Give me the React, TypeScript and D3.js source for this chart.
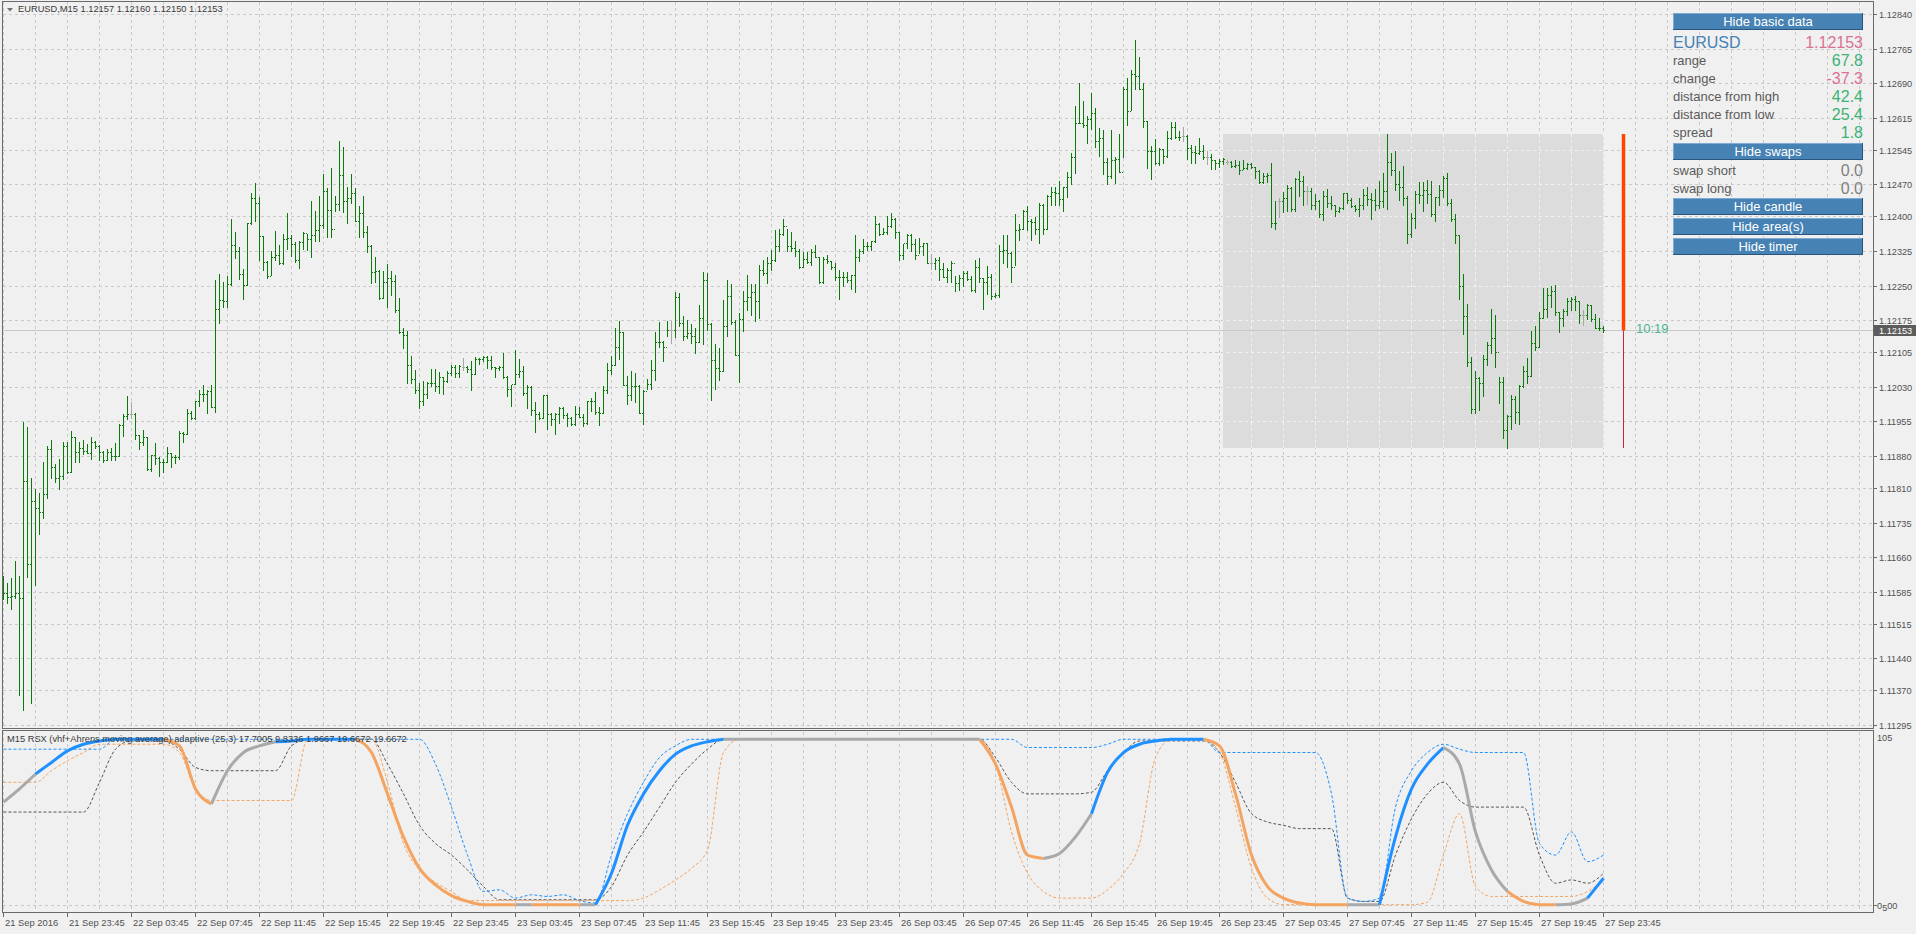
import React from "react";
import * as d3 from "d3";

const W = 1916;
const H = 934;

// Prices are stored as points above 1.10000 (price = 1.1 + pts / 100000)
const HIGH_PTS = [
  1619,1604,1615,1652,1619,1953,1943,1832,1808,1799,
  1867,1901,1915,1862,1873,1909,1910,1934,1921,1910,
  1915,1906,1920,1913,1903,1890,1895,1896,1908,1949,
  1970,2009,1996,1973,1926,1937,1921,1882,1907,1877,
  1872,1899,1887,1882,1934,1932,1982,1978,2000,2023,
  2034,2023,2034,2262,2276,2258,2270,2394,2366,2333,
  2286,2385,2451,2472,2443,2357,2304,2325,2369,2338,
  2362,2408,2360,2345,2347,2366,2363,2434,2412,2444,
  2493,2462,2506,2444,2563,2550,2464,2493,2462,2423,
  2444,2380,2337,2312,2284,2281,2296,2282,2272,2222,
  2157,2151,2097,2067,2039,2043,2041,2069,2068,2061,
  2052,2065,2078,2078,2078,2093,2075,2086,2094,2093,
  2097,2097,2097,2074,2076,2104,2054,2034,2110,2090,
  2075,2033,2031,1997,1975,2012,2012,1973,1973,1986,
  1985,1973,1965,1989,1986,1971,1999,2006,2019,1986,
  2032,2081,2097,2157,2173,2148,2054,2065,2060,2033,
  2022,2047,2088,2148,2170,2129,2173,2173,2236,2234,
  2183,2175,2167,2158,2208,2279,2278,2168,2123,2114,
  2219,2262,2254,2175,2191,2238,2272,2253,2254,2295,
  2306,2313,2327,2371,2373,2395,2373,2366,2347,2329,
  2322,2322,2329,2337,2311,2311,2316,2303,2300,2284,
  2279,2280,2272,2360,2330,2350,2344,2347,2401,2385,
  2376,2401,2408,2397,2366,2340,2361,2361,2350,2354,
  2343,2343,2318,2310,2311,2298,2287,2303,2271,2273,
  2282,2282,2271,2305,2309,2266,2292,2276,2233,2337,
  2360,2360,2323,2405,2384,2414,2423,2394,2398,2430,
  2427,2447,2463,2463,2478,2465,2496,2539,2640,2689,
  2651,2618,2668,2635,2592,2588,2528,2588,2530,2579,
  2681,2700,2718,2784,2746,2689,2608,2553,2568,2548,
  2547,2586,2605,2605,2586,2594,2578,2555,2554,2570,
  2555,2543,2535,2523,2526,2528,2523,2521,2523,2521,
  2523,2516,2517,2507,2501,2494,2494,2517,2434,2440,
  2454,2468,2465,2483,2499,2487,2466,2461,2449,2436,
  2455,2459,2445,2426,2420,2450,2450,2440,2426,2440,
  2459,2463,2452,2460,2477,2494,2579,2539,2542,2499,
  2510,2445,2407,2455,2474,2474,2479,2477,2443,2468,
  2488,2494,2437,2405,2360,2275,2210,2095,2065,2052,
  2099,2127,2199,2186,2052,2052,1969,2012,2009,2034,
  2075,2092,2152,2161,2193,2244,2244,2248,2251,2193,
  2200,2222,2226,2227,2217,2197,2210,2208,2188,2180,
  2162
];

const LOW_PTS = [
  1569,1560,1548,1570,1360,1327,1616,1343,1600,1709,
  1744,1789,1832,1823,1807,1830,1842,1845,1866,1867,
  1884,1885,1872,1898,1870,1867,1870,1870,1870,1880,
  1923,1961,1962,1916,1894,1903,1849,1848,1863,1837,
  1844,1866,1856,1865,1874,1909,1928,1961,1961,1988,
  2000,1973,1985,1976,2169,2204,2203,2251,2309,2265,
  2220,2251,2384,2390,2306,2283,2266,2272,2306,2296,
  2297,2329,2315,2302,2289,2330,2327,2313,2346,2346,
  2376,2355,2355,2412,2415,2409,2385,2429,2390,2356,
  2355,2323,2256,2257,2220,2222,2204,2230,2193,2146,
  2115,2038,2039,2016,1983,1991,2005,2031,2020,2017,
  2015,2041,2056,2051,2051,2067,2062,2024,2057,2079,
  2085,2070,2069,2052,2067,2049,2011,1989,2036,2051,
  2012,1983,1969,1931,1960,1962,1938,1947,1927,1952,
  1962,1944,1947,1947,1964,1945,1949,1978,1970,1947,
  1973,2017,2057,2078,2090,2033,1992,2002,1996,1973,
  1948,2025,2025,2045,2117,2085,2141,2126,2139,2161,
  2131,2136,2125,2104,2127,2122,2154,2002,2025,2044,
  2065,2141,2167,2099,2041,2152,2196,2186,2172,2180,
  2272,2256,2284,2304,2326,2359,2326,2326,2315,2289,
  2290,2300,2295,2311,2255,2256,2300,2286,2262,2221,
  2248,2257,2243,2236,2304,2320,2327,2327,2345,2359,
  2362,2362,2377,2353,2305,2307,2331,2324,2308,2320,
  2316,2300,2286,2286,2262,2268,2258,2258,2238,2240,
  2248,2261,2237,2235,2257,2199,2232,2220,2225,2226,
  2300,2290,2258,2295,2349,2372,2371,2349,2363,2342,
  2362,2372,2424,2425,2424,2411,2443,2470,2495,2604,
  2595,2560,2590,2552,2532,2492,2470,2483,2472,2496,
  2530,2599,2631,2676,2678,2595,2506,2481,2514,2512,
  2516,2530,2568,2570,2566,2564,2525,2516,2517,2535,
  2526,2513,2503,2504,2508,2513,2514,2508,2507,2493,
  2503,2503,2505,2484,2472,2472,2476,2378,2373,2398,
  2409,2411,2411,2411,2445,2425,2427,2416,2416,2398,
  2392,2420,2416,2402,2409,2416,2430,2420,2411,2401,
  2416,2426,2395,2414,2418,2421,2416,2490,2458,2436,
  2426,2342,2356,2376,2429,2411,2429,2400,2390,2425,
  2442,2425,2390,2342,2220,2144,2076,1972,1972,1980,
  2009,2077,2103,2074,1994,1918,1898,1938,1951,1948,
  2030,2038,2053,2110,2117,2179,2182,2204,2186,2150,
  2161,2185,2197,2197,2169,2164,2177,2172,2157,2153,
  2150
];

const CLOSE_PTS = [
  1581,1573,1575,1581,1570,1826,1645,1781,1766,1758,
  1797,1895,1856,1831,1837,1901,1845,1921,1888,1896,
  1890,1887,1911,1901,1889,1870,1888,1880,1880,1947,
  1967,1971,1971,1926,1910,1920,1851,1882,1876,1867,
  1867,1887,1877,1878,1930,1928,1972,1963,1998,2014,
  2015,2020,1986,2200,2218,2216,2254,2338,2326,2274,
  2251,2385,2440,2429,2357,2301,2271,2311,2317,2300,
  2352,2354,2341,2306,2344,2364,2351,2360,2371,2381,
  2456,2414,2373,2427,2491,2433,2441,2452,2390,2408,
  2366,2336,2280,2282,2222,2257,2267,2259,2196,2148,
  2142,2078,2047,2022,1999,2014,2038,2038,2032,2051,
  2043,2059,2074,2059,2075,2074,2068,2057,2090,2090,
  2094,2088,2073,2070,2073,2051,2026,2036,2057,2064,
  2016,2029,1980,1970,1963,2012,1971,1960,1970,1983,
  1968,1962,1949,1971,1964,1951,1999,2000,1975,1973,
  2023,2067,2077,2116,2148,2033,2012,2032,2032,1973,
  2020,2036,2067,2128,2128,2117,2153,2153,2226,2168,
  2141,2146,2141,2127,2179,2262,2167,2088,2070,2065,
  2162,2228,2171,2100,2178,2217,2226,2235,2217,2284,
  2277,2300,2306,2336,2361,2380,2335,2332,2326,2291,
  2307,2302,2322,2311,2258,2308,2303,2291,2268,2269,
  2268,2261,2272,2313,2325,2336,2336,2346,2384,2363,
  2366,2380,2395,2366,2316,2342,2360,2340,2316,2336,
  2342,2300,2300,2305,2286,2268,2284,2300,2255,2267,
  2277,2265,2240,2290,2267,2257,2269,2227,2229,2324,
  2327,2320,2290,2371,2372,2413,2390,2388,2372,2426,
  2373,2445,2454,2452,2437,2463,2485,2529,2604,2604,
  2599,2611,2624,2563,2571,2519,2489,2523,2524,2497,
  2676,2630,2710,2705,2678,2608,2542,2542,2517,2547,
  2531,2570,2595,2572,2573,2575,2548,2541,2539,2543,
  2529,2529,2523,2516,2521,2525,2519,2510,2512,2502,
  2505,2514,2507,2499,2474,2488,2490,2385,2385,2434,
  2440,2461,2416,2481,2477,2455,2455,2426,2434,2405,
  2445,2429,2424,2413,2418,2450,2436,2423,2416,2426,
  2447,2438,2436,2424,2434,2455,2518,2501,2470,2465,
  2440,2363,2396,2448,2447,2458,2448,2405,2442,2458,
  2484,2429,2394,2360,2248,2184,2083,1982,2050,2038,
  2090,2121,2137,2106,2040,1936,1967,2003,1975,2032,
  2064,2053,2124,2117,2179,2198,2229,2238,2193,2180,
  2195,2216,2220,2217,2186,2185,2208,2177,2157,2157,
  2153
];

// bars drawn gray (open equal to close)
const DOJI_BARS = [32, 115, 167, 232, 295, 301, 306, 319, 326, 395];

const PRICE_TICKS = [
  "1.12840","1.12765","1.12690","1.12615","1.12545","1.12470","1.12400","1.12325",
  "1.12250","1.12175","1.12105","1.12030","1.11955","1.11880","1.11810","1.11735",
  "1.11660","1.11585","1.11515","1.11440","1.11370","1.11295"
];

const TIME_LABELS = [
  "21 Sep 2016","21 Sep 23:45","22 Sep 03:45","22 Sep 07:45","22 Sep 11:45","22 Sep 15:45",
  "22 Sep 19:45","22 Sep 23:45","23 Sep 03:45","23 Sep 07:45","23 Sep 11:45","23 Sep 15:45",
  "23 Sep 19:45","23 Sep 23:45","26 Sep 03:45","26 Sep 07:45","26 Sep 11:45","26 Sep 15:45",
  "26 Sep 19:45","26 Sep 23:45","27 Sep 03:45","27 Sep 07:45","27 Sep 11:45","27 Sep 15:45",
  "27 Sep 19:45","27 Sep 23:45"
];

// Indicator sampled every 4 bars (bar 0, 4, 8 ... 400)
const RSX = [
  62,70,79,86,93,97,99,100,100,100,
  100,96,70,61,81,92,96,98.5,99,100,
  100,100,100,92,67,41,22,12,5.5,2,
  0,0,0,0,0,0,0,0,19,48,
  67,81,91,96,98.5,100,100,100,100,100,
  100,100,100,100,100,100,100,100,100,100,
  100,100,85,59,30,28,31,41,55,80,
  92,97,99,100,100,100,96,67,30,11,
  4,1,0,0,0,0,0,41,70,85,
  95,85,44,21,8,2,0,0,0.5,4,
  16
];
// u = rising (blue), d = falling (orange), n = neutral (gray)
const RSX_STATE =
  "nnnuuuuuuuudddnnnnuuuuudddddddddd" +
  "ndddnuuuuuuuunnnnnnnnnnnnnnnnddddnnnuuuuuuu" +
  "dddddddddnnuuuunnnndddnnu";
const UPPER = [
  94,94,94,94,94,94,94,100,100,100,
  100,100,100,100,100,100,100,100,100,100,
  100,100,100,100,100,100,100,85,59,30,
  8,9,4,6,5,6,2.5,1,30,55,
  74,89,96,100,100,100,100,100,100,100,
  100,100,100,100,100,100,100,100,100,100,
  100,100,100,100,95,95,95,95,95,97,
  100,100,100,100,100,100,92,92,92,92,
  92,92,92,67,4,2,4,59,81,92,
  97,94,92,92,92,92,37,30,44,26,
  30
];
const LOWER = [
  74,74,74,81,87,92,97,97,97,97,
  97,92,70,63,63,63,63,63,63,100,
  100,100,100,100,74,37,21,13.5,8,2.5,
  2.5,2.5,2.5,2.5,2.5,2.5,2.5,2.5,2.5,2.5,
  4,9,15,22,33,92,100,100,100,100,
  100,100,100,100,100,100,100,100,100,100,
  100,100,85,44,19,8,4,4,4,9,
  19,37,89,100,100,100,92,59,22,4,
  0,0,0,0,0,0,0,0,0,1.5,
  30,55,11,5,5,5,5,5,5,8,
  15
];
const MID = [
  56,56,56,56,56,56,74,94,99,99,
  99,94,83,81,81,81,81,81,96,100,
  100,100,100,100,85,67,48,37,30,21,
  11,3,3,3,3,3,3,3,11,30,
  44,59,74,85,94,100,100,100,100,100,
  100,100,100,100,100,100,100,100,100,100,
  100,100,89,74,67,67,67,67,68,81,
  92,99,99,99,99,99,92,74,55,50,
  48,46,46,46,4,2,2,30,52,67,
  74,63,59,59,59,59,30,13,15,13,
  19
];

const TITLE = "EURUSD,M15  1.12157 1.12160 1.12150 1.12153";
const IND_TITLE =
  "M15 RSX (vhf+Ahrens moving average) adaptive (25,3) 17.7005 9.8336 1.9667 19.6672 19.6672";

const PANEL_SYMBOL = "EURUSD";
const PANEL_PRICE = "1.12153";
const PANEL_ROWS = [
  { label: "range", value: "67.8", color: "#3cb371" },
  { label: "change", value: "-37.3", color: "#db7093" },
  { label: "distance from high", value: "42.4", color: "#3cb371" },
  { label: "distance from low", value: "25.4", color: "#3cb371" },
  { label: "spread", value: "1.8", color: "#3cb371" },
];
const SWAP_ROWS = [
  { label: "swap short", value: "0.0" },
  { label: "swap long", value: "0.0" },
];
const BUTTONS = ["Hide basic data", "Hide swaps", "Hide candle", "Hide area(s)", "Hide timer"];
const TIMER_TEXT = "10:19";
const AREA_START_BAR = 305;

const FONT = "'Liberation Sans', Arial, sans-serif";
const BG = "#f0f0f0";
const GRID = "#c9c9c9";
const FRAME = "#6a6a6a";
const AXIS_TEXT = "#505050";

const pts = (v: number) => 1.1 + v / 100000;

export default function App() {
  const n = CLOSE_PTS.length;
  const last = n - 1;
  const x = d3.scaleLinear().domain([0, last]).range([3.5, 3.5 + 4 * last]);
  const yP = d3.scaleLinear().domain([1.11295, 1.1284]).range([725, 14]);
  const yI = d3.scaleLinear().domain([-5, 105]).range([913, 731]);

  const mainL = 2, mainR = 1873, mainT = 1, mainB = 728;
  const indT = 731, indB = 913;

  const gridXs: number[] = [];
  for (let i = 0; x(i) < mainR; i += 8) gridXs.push(x(i));

  const priceYs = PRICE_TICKS.map((t) => Math.round(yP(+t)) + 0.5);

  const areaHi = d3.max(HIGH_PTS.slice(AREA_START_BAR)) as number;
  const areaLo = d3.min(LOW_PTS.slice(AREA_START_BAR)) as number;
  const curPts = CLOSE_PTS[last];
  const areaX0 = x(AREA_START_BAR) - 0.5;
  const areaX1 = x(last) + 0.5;
  const areaY0 = Math.round(yP(pts(areaHi)));
  const areaY1 = Math.round(yP(pts(areaLo)));
  const curY = Math.round(yP(pts(curPts))) + 0.5;

  const bars = CLOSE_PTS.map((c, i) => {
    const doji = DOJI_BARS.includes(i);
    const o = doji ? c : i > 0 ? CLOSE_PTS[i - 1] : c + 9;
    const cx = Math.floor(x(i));
    const yh = Math.round(yP(pts(HIGH_PTS[i])));
    const yl = Math.round(yP(pts(LOW_PTS[i])));
    const yo = Math.round(yP(pts(o)));
    const yc = Math.round(yP(pts(c)));
    const col = doji ? "#a6a6a6" : "#0b7a0b";
    return (
      <g key={i} fill={col}>
        <rect x={cx} y={yh} width={1} height={Math.max(1, yl - yh + 1)} />
        <rect x={cx - 1} y={yo} width={1} height={1} />
        <rect x={cx + 1} y={yc} width={1} height={1} />
      </g>
    );
  });

  const sampleBars = RSX.map((_, k) => k * 4);
  const lineGen = d3
    .line<[number, number]>()
    .x((d) => x(d[0]))
    .y((d) => yI(d[1]))
    .curve(d3.curveMonotoneX);
  const series = (vals: number[]) => vals.map((v, k) => [sampleBars[k], v] as [number, number]);

  const stateColor: Record<string, string> = { u: "#1e90ff", d: "#f4a460", n: "#a9a9a9" };
  const runs: { s: string; pts: [number, number][] }[] = [];
  for (let k = 1; k < RSX.length; k++) {
    const s = RSX_STATE[k];
    const seg: [number, number][] = [
      [sampleBars[k - 1], RSX[k - 1]],
      [sampleBars[k], RSX[k]],
    ];
    const prev = runs[runs.length - 1];
    if (prev && prev.s === s) prev.pts.push(seg[1]);
    else runs.push({ s, pts: seg });
  }

  const buttonTops = [13, 143, 198, 218, 238];
  const btnX = 1673, btnW = 190, btnH = 17;

  const distX = x(last + 5);
  const zeroY = Math.round(yI(0)) + 0.5;

  return (
    <div style={{ position: "absolute", left: 0, top: 0, width: W, height: H, overflow: "hidden", background: BG }}>
      <svg width={W} height={H} style={{ display: "block", fontFamily: FONT }}>
        <defs>
          <clipPath id="areaClip">
            <rect x={areaX0} y={areaY0} width={areaX1 - areaX0} height={areaY1 - areaY0} />
          </clipPath>
          <clipPath id="indClip">
            <rect x={mainL} y={indT + 1} width={mainR - mainL} height={indB - indT - 1} />
          </clipPath>
        </defs>
        <rect x={0} y={0} width={W} height={H} fill={BG} />

        {/* main grid */}
        <g stroke={GRID} strokeDasharray="3,3" shapeRendering="crispEdges">
          {gridXs.map((gx, i) => (
            <line key={"gv" + i} x1={gx} x2={gx} y1={mainT + 1} y2={mainB} />
          ))}
          {priceYs.map((py, i) => (
            <line key={"gh" + i} x1={mainL + 1} x2={mainR} y1={py} y2={py} />
          ))}
        </g>

        {/* day range area */}
        <rect x={areaX0} y={areaY0} width={areaX1 - areaX0} height={areaY1 - areaY0} fill="#dcdcdc" />
        <g clipPath="url(#areaClip)" stroke="#f2f2f2" strokeDasharray="3,3" shapeRendering="crispEdges">
          {gridXs.map((gx, i) => (
            <line key={"av" + i} x1={gx} x2={gx} y1={mainT + 1} y2={mainB} />
          ))}
          {priceYs.map((py, i) => (
            <line key={"ah" + i} x1={mainL + 1} x2={mainR} y1={py} y2={py} />
          ))}
        </g>

        {/* current price line */}
        <line x1={mainL} x2={mainR} y1={curY} y2={curY} stroke="#c8c8c8" shapeRendering="crispEdges" />

        {/* bars */}
        <g shapeRendering="crispEdges">{bars}</g>

        {/* distance from high / low line */}
        <line x1={distX} x2={distX} y1={areaY0} y2={curY} stroke="#ff4500" strokeWidth={3.5} />
        <line x1={distX} x2={distX} y1={curY} y2={areaY1} stroke="#d0203a" strokeWidth={1} />
        <text x={1636} y={333} fontSize={13} fill="#4bb596">{TIMER_TEXT}</text>

        {/* title */}
        <polygon points="7,8 13,8 10,11.5" fill="#707070" />
        <text x={18} y={12} fontSize={9.3} fill="#3a3a3a">{TITLE}</text>

        {/* main frame */}
        <g stroke={FRAME} fill="none" shapeRendering="crispEdges">
          <rect x={mainL + 0.5} y={mainT + 0.5} width={mainR - mainL} height={mainB - mainT} />
        </g>

        {/* price axis */}
        {PRICE_TICKS.map((t, i) => (
          <g key={"pt" + i}>
            <line x1={mainR} x2={mainR + 4} y1={priceYs[i]} y2={priceYs[i]} stroke={FRAME} shapeRendering="crispEdges" />
            <text x={1879} y={priceYs[i] + 3.5} fontSize={9.2} fill={AXIS_TEXT}>{t}</text>
          </g>
        ))}
        <rect x={1874} y={curY - 5.5} width={42} height={11} fill="#5c5c5c" />
        <text x={1879} y={curY + 3.5} fontSize={9.2} fill="#ffffff">{(1.1 + curPts / 100000).toFixed(5)}</text>

        {/* indicator panel */}
        <g stroke={GRID} strokeDasharray="3,3" shapeRendering="crispEdges">
          {gridXs.map((gx, i) => (
            <line key={"iv" + i} x1={gx} x2={gx} y1={indT + 1} y2={indB} />
          ))}
          <line x1={mainL + 1} x2={mainR} y1={zeroY} y2={zeroY} />
        </g>
        <g clipPath="url(#indClip)" fill="none">
          <path d={lineGen(series(MID)) || ""} stroke="#555555" strokeWidth={1} strokeDasharray="3,2" />
          <path d={lineGen(series(LOWER)) || ""} stroke="#f4a460" strokeWidth={1} strokeDasharray="3,2" />
          <path d={lineGen(series(UPPER)) || ""} stroke="#1e90ff" strokeWidth={1} strokeDasharray="3,2" />
          {runs.map((r, i) => (
            <path key={"r" + i} d={lineGen(r.pts) || ""} stroke={stateColor[r.s]} strokeWidth={3} strokeLinejoin="round" />
          ))}
        </g>
        <text x={7} y={742} fontSize={9.3} fill="#3a3a3a">{IND_TITLE}</text>
        <g stroke={FRAME} fill="none" shapeRendering="crispEdges">
          <rect x={mainL + 0.5} y={indT - 0.5} width={mainR - mainL} height={indB - indT} />
        </g>
        <text x={1877} y={741} fontSize={9.2} fill={AXIS_TEXT}>105</text>
        <line x1={mainR} x2={mainR + 4} y1={zeroY} y2={zeroY} stroke={FRAME} />
        <text x={1877} y={908.5} fontSize={9.2} fill={AXIS_TEXT}>
          0<tspan dy={2}>5</tspan><tspan dy={-2}>00</tspan>
        </text>

        {/* time axis */}
        {TIME_LABELS.map((lab, j) => {
          const tx = x(j * 16);
          return (
            <g key={"tl" + j}>
              <line x1={tx} x2={tx} y1={indB} y2={indB + 4} stroke={FRAME} shapeRendering="crispEdges" />
              <text x={tx + 1.5} y={926} fontSize={9.4} fill={AXIS_TEXT}>{lab}</text>
            </g>
          );
        })}

        {/* right info panel */}
        {BUTTONS.map((b, i) => {
          const by = buttonTops[i];
          return (
            <g key={"b" + i}>
              <rect x={btnX} y={by} width={btnW} height={btnH} fill="#4682b4" />
              <line x1={btnX} x2={btnX + btnW} y1={by + 0.5} y2={by + 0.5} stroke="#7eaad6" />
              <line x1={btnX + 0.5} x2={btnX + 0.5} y1={by} y2={by + btnH} stroke="#7eaad6" />
              <line x1={btnX} x2={btnX + btnW} y1={by + btnH - 0.5} y2={by + btnH - 0.5} stroke="#2b557e" />
              <line x1={btnX + btnW - 0.5} x2={btnX + btnW - 0.5} y1={by} y2={by + btnH} stroke="#2b557e" />
              <text x={btnX + btnW / 2} y={by + 13} fontSize={13} fill="#ffffff" textAnchor="middle">{b}</text>
            </g>
          );
        })}
        <text x={btnX} y={48} fontSize={16} fill="#4682b4">{PANEL_SYMBOL}</text>
        <text x={btnX + btnW} y={48} fontSize={16} fill="#db7093" textAnchor="end">{PANEL_PRICE}</text>
        {PANEL_ROWS.map((r, i) => (
          <g key={"pr" + i}>
            <text x={btnX} y={64.5 + i * 18} fontSize={13} fill="#5a5a5a">{r.label}</text>
            <text x={btnX + btnW} y={65.5 + i * 18} fontSize={16} fill={r.color} textAnchor="end">{r.value}</text>
          </g>
        ))}
        {SWAP_ROWS.map((r, i) => (
          <g key={"sr" + i}>
            <text x={btnX} y={174.5 + i * 18} fontSize={13} fill="#5a5a5a">{r.label}</text>
            <text x={btnX + btnW} y={175.5 + i * 18} fontSize={16} fill="#808080" textAnchor="end">{r.value}</text>
          </g>
        ))}
      </svg>
    </div>
  );
}
